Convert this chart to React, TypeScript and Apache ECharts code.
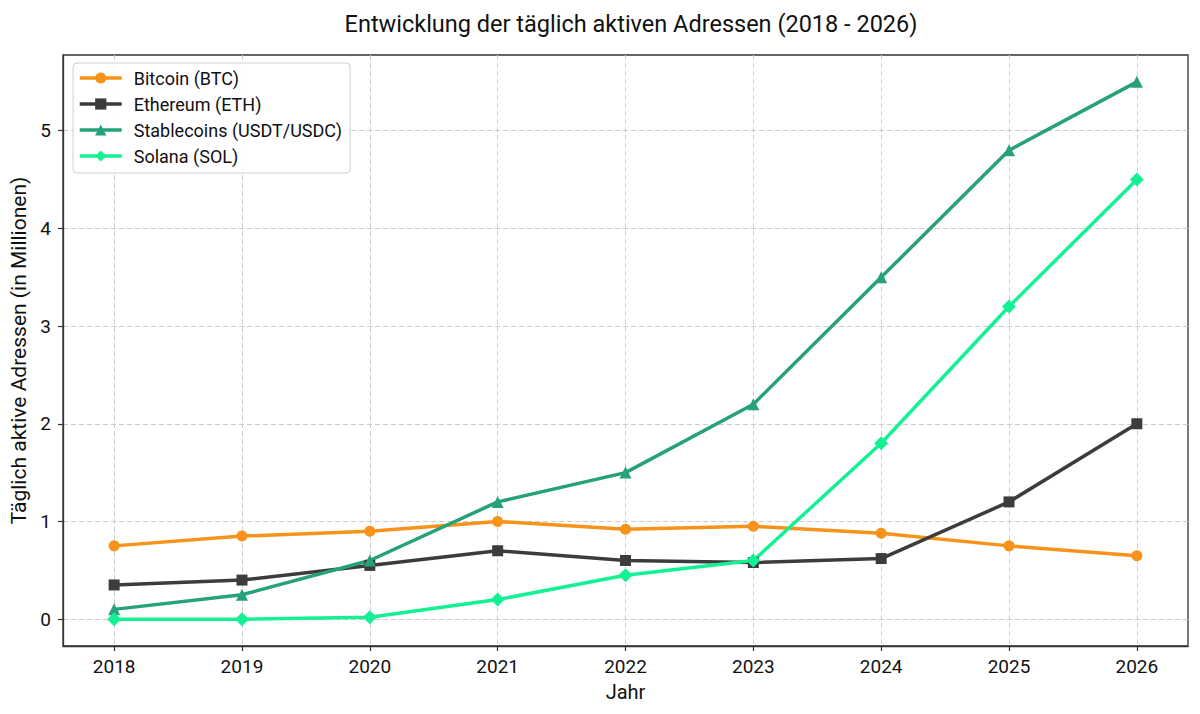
import React, { useEffect, useRef } from "react";
import * as echarts from "echarts";

const years = [2018, 2019, 2020, 2021, 2022, 2023, 2024, 2025, 2026];
const btc = [0.75, 0.85, 0.9, 1.0, 0.92, 0.95, 0.88, 0.75, 0.65];
const eth = [0.35, 0.4, 0.55, 0.7, 0.6, 0.58, 0.62, 1.2, 2.0];
const stable = [0.1, 0.25, 0.6, 1.2, 1.5, 2.2, 3.5, 4.8, 5.5];
const sol = [0.0, 0.0, 0.02, 0.2, 0.45, 0.6, 1.8, 3.2, 4.5];
const yTicks = [0, 1, 2, 3, 4, 5];

const FONT = "Roboto";

export default function App() {
  const ref = useRef<HTMLDivElement>(null);
  useEffect(() => {
    document.body.style.margin = "0";
    if (!ref.current) return;
    const chart = echarts.init(ref.current, null, { renderer: "svg" });
    const mk = (name: string, data: number[], color: string, symbol: string, size: number) => ({
      name,
      type: "line",
      data: years.map((y, i) => [y, data[i]]),
      symbol,
      symbolSize: size,
      lineStyle: { color, width: 3.5 },
      itemStyle: { color },
    });
    chart.setOption({
      animation: false,
      textStyle: { fontFamily: FONT },
      title: {
        text: "Entwicklung der täglich aktiven Adressen (2018 - 2026)",
        left: 626,
        textAlign: "center",
        top: 7,
        textStyle: { fontFamily: FONT, fontSize: 23.5, fontWeight: "normal", color: "#111" },
      },
      grid: {
        left: 63,
        right: 12,
        top: 55,
        bottom: 68,
        show: true,
        borderColor: "#333",
        borderWidth: 1.3,
        backgroundColor: "transparent",
      },
      legend: {
        orient: "vertical",
        left: 73,
        top: 63,
        padding: [6, 8, 8, 5],
        itemGap: 8,
        itemWidth: 42,
        itemHeight: 14,
        lineStyle: { width: 3.5 },
        borderColor: "#d0d0d0",
        borderWidth: 1,
        borderRadius: 4,
        backgroundColor: "rgba(255,255,255,0.85)",
        textStyle: { fontFamily: FONT, fontSize: 18, lineHeight: 18, color: "#111", padding: [0, 0, 0, 7] },
        data: ["Bitcoin (BTC)", "Ethereum (ETH)", "Stablecoins (USDT/USDC)", "Solana (SOL)"],
      },
      xAxis: {
        type: "value",
        min: 2017.6,
        max: 2026.4,
        name: "Jahr",
        nameLocation: "middle",
        nameGap: 36,
        nameTextStyle: { fontFamily: FONT, fontSize: 20, color: "#111" },
        axisLine: { show: true, onZero: false, lineStyle: { color: "#333", width: 1.3 } },
        axisTick: { show: true, length: 5, lineStyle: { color: "#333", width: 1.2 }, customValues: years },
        axisLabel: { customValues: years, fontFamily: FONT, fontSize: 19, color: "#111", margin: 11, formatter: (v: number) => String(v) },
        splitLine: { show: true, lineStyle: { color: "#cccccc", type: [5, 3], width: 1 } },
      },
      yAxis: {
        type: "value",
        min: -0.275,
        max: 5.775,
        name: "Täglich aktive Adressen (in Millionen)",
        nameLocation: "middle",
        nameGap: 31,
        nameTextStyle: { fontFamily: FONT, fontSize: 21, color: "#111" },
        axisLine: { show: true, onZero: false, lineStyle: { color: "#333", width: 1.3 } },
        axisTick: { show: true, length: 5, lineStyle: { color: "#333", width: 1.2 }, customValues: yTicks },
        axisLabel: { customValues: yTicks, fontFamily: FONT, fontSize: 19, color: "#111", margin: 12, formatter: (v: number) => String(v) },
        splitLine: { show: true, lineStyle: { color: "#cccccc", type: [5, 3], width: 1 } },
      },
      series: [
        mk("Bitcoin (BTC)", btc, "#F7931A", "circle", 11),
        mk("Ethereum (ETH)", eth, "#3C3C3D", "rect", 11),
        mk("Stablecoins (USDT/USDC)", stable, "#26A17B", "triangle", 12),
        mk("Solana (SOL)", sol, "#14F195", "diamond", 14),
      ],
    });
    return () => chart.dispose();
  }, []);
  return <div ref={ref} style={{ width: 1200, height: 714 }} />;
}
